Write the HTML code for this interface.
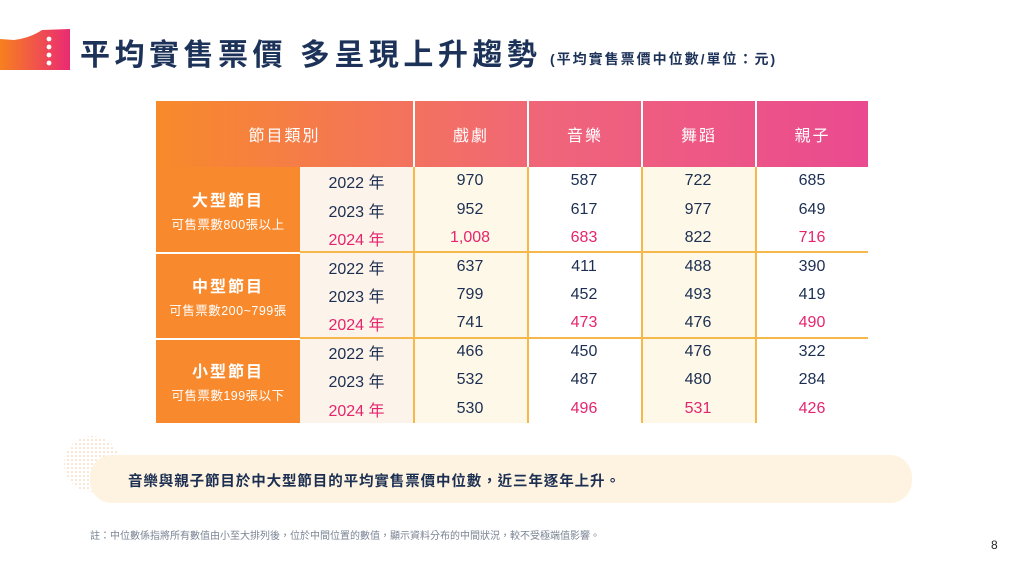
<!DOCTYPE html>
<html><head><meta charset="utf-8"><style>
*{margin:0;padding:0;box-sizing:border-box}
body{width:1024px;height:576px;background:#fff;position:relative;overflow:hidden;font-family:"Liberation Sans","Noto Sans CJK TC",sans-serif;color:#1c2f52}
.abs{position:absolute}
.c{position:absolute;display:flex;align-items:center;justify-content:center;text-align:center}
.hd{color:#fff;font-size:16px;letter-spacing:2px}
.num{font-size:16px;color:#1c2f52}
.pk{color:#e6246e}
</style></head><body>
<svg class="abs" style="left:0;top:28px" width="72" height="44">
<defs><linearGradient id="lg" x1="0" x2="1"><stop offset="0" stop-color="#f7801f"/><stop offset="1" stop-color="#ea2a73"/></linearGradient></defs>
<path d="M0 11 L14 12 Q30 10 42 2 L70 1 L70 42 L0 42 Z" fill="url(#lg)"/>
<circle cx="49" cy="11" r="2.4" fill="#fff"/><circle cx="49" cy="19" r="2.4" fill="#fff"/><circle cx="49" cy="27" r="2.4" fill="#fff"/><circle cx="49" cy="35" r="2.4" fill="#fff"/>
</svg>
<div class="abs" style="left:80px;top:30px;font-size:30px;font-weight:bold;color:#1c3258;letter-spacing:4.5px;white-space:nowrap">平均實售票價 多呈現上升趨勢</div>
<div class="abs" style="left:550px;top:49px;font-size:14px;font-weight:bold;color:#1c3258;white-space:nowrap;letter-spacing:2px">(平均實售票價中位數/單位：元)</div>

<div class="abs" style="left:156px;top:101px;width:712px;height:322px">
<div class="abs" style="left:0;top:0;width:712px;height:66px;background:linear-gradient(90deg,#f88a2a,#f0657a 55%,#ea4a90)"></div>
<div class="c hd" style="left:0;top:0;width:257px;height:66px">節目類別</div>
<div class="c hd" style="left:257px;top:0;width:114px;height:66px;border-left:2px solid #fff">戲劇</div>
<div class="c hd" style="left:371px;top:0;width:114px;height:66px;border-left:2px solid #fff">音樂</div>
<div class="c hd" style="left:485px;top:0;width:114px;height:66px;border-left:2px solid #fff">舞蹈</div>
<div class="c hd" style="left:599px;top:0;width:113px;height:66px;border-left:2px solid #fff">親子</div>
<div class="abs" style="left:144px;top:66px;width:113px;height:256px;background:#fcf3ea"></div>
<div class="abs" style="left:257px;top:66px;width:114px;height:256px;background:#fdf8e8"></div>
<div class="abs" style="left:485px;top:66px;width:114px;height:256px;background:#fdf8e8"></div>
<div id="rows"></div>
</div>

<svg class="abs" style="left:62px;top:434px" width="62" height="60">
<defs><pattern id="dp" width="4" height="4" patternUnits="userSpaceOnUse"><circle cx="2" cy="2" r="0.8" fill="#f7c9a0"/></pattern></defs>
<circle cx="30" cy="30" r="28" fill="url(#dp)"/></svg>
<div class="abs" style="left:90px;top:455px;width:822px;height:48px;background:#fdf3e0;border-radius:22px"></div>
<div class="abs" style="left:128px;top:470px;font-size:14.5px;font-weight:bold;color:#1c2f52;white-space:nowrap;letter-spacing:0.9px">音樂與親子節目於中大型節目的平均實售票價中位數，近三年逐年上升。</div>
<div class="abs" style="left:90px;top:527px;font-size:10px;color:#7a8494;white-space:nowrap">註：中位數係指將所有數值由小至大排列後，位於中間位置的數值，顯示資料分布的中間狀況，較不受極端值影響。</div>
<div class="abs" style="left:991px;top:538px;font-size:12px;color:#222">8</div>

<script>
const groups=["大型節目","中型節目","小型節目"];
const groupSubs=["可售票數800張以上","可售票數200~799張","可售票數199張以下"];
const years=["2022 年","2023 年","2024 年"];
const drama=[970,952,1008,637,799,741,466,532,530];
const music=[587,617,683,411,452,473,450,487,496];
const dance=[722,977,822,488,493,476,476,480,531];
const family=[685,649,716,390,419,490,322,284,426];
const pinkDrama=[2];const pinkMusic=[2,5,8];const pinkDance=[8];const pinkFamily=[2,5,8];
const R=document.getElementById('rows');
const rh=256/9,top0=66;
function add(html){R.insertAdjacentHTML('beforeend',html);return R.lastElementChild;}
groups.forEach((g,i)=>{
  const y=top0+i*rh*3;
  const el=add(`<div class="c" style="left:0;top:${y}px;width:144px;height:${rh*3}px;background:#f8892c;color:#fff;flex-direction:column;border-top:${i?2:0}px solid #fff"><div style="font-size:16px;font-weight:bold;letter-spacing:2px">${g}</div><div style="font-size:12.5px;margin-top:3px;letter-spacing:0.5px">${groupSubs[i]}</div></div>`);
  
  
  if(i){const ln=add(`<div class="abs" style="left:144px;top:${y-1}px;width:568px;height:2px;background:#f6b84a"></div>`);
    
    }
});
[[drama,pinkDrama,257],[music,pinkMusic,371],[dance,pinkDance,485],[family,pinkFamily,599]].forEach(([arr,pk,x],ci)=>{
  const v=add(`<div class="abs" style="left:${x}px;top:66px;width:2px;height:256px;background:#f6b84a"></div>`);
  
  
  arr.forEach((val,r)=>{
    const c=add(`<div class="c num ${pk.includes(r)?'pk':''}" style="left:${x}px;top:${top0+r*rh}px;width:114px;height:${rh}px">${val.toLocaleString('en-US')}</div>`);
    
    
  });
});
for(let r=0;r<9;r++){
  const c=add(`<div class="c num ${r%3==2?'pk':''}" style="left:144px;top:${top0+r*rh}px;width:113px;height:${rh}px">${years[r%3]}</div>`);
  
  
}
</script>
</body></html>
